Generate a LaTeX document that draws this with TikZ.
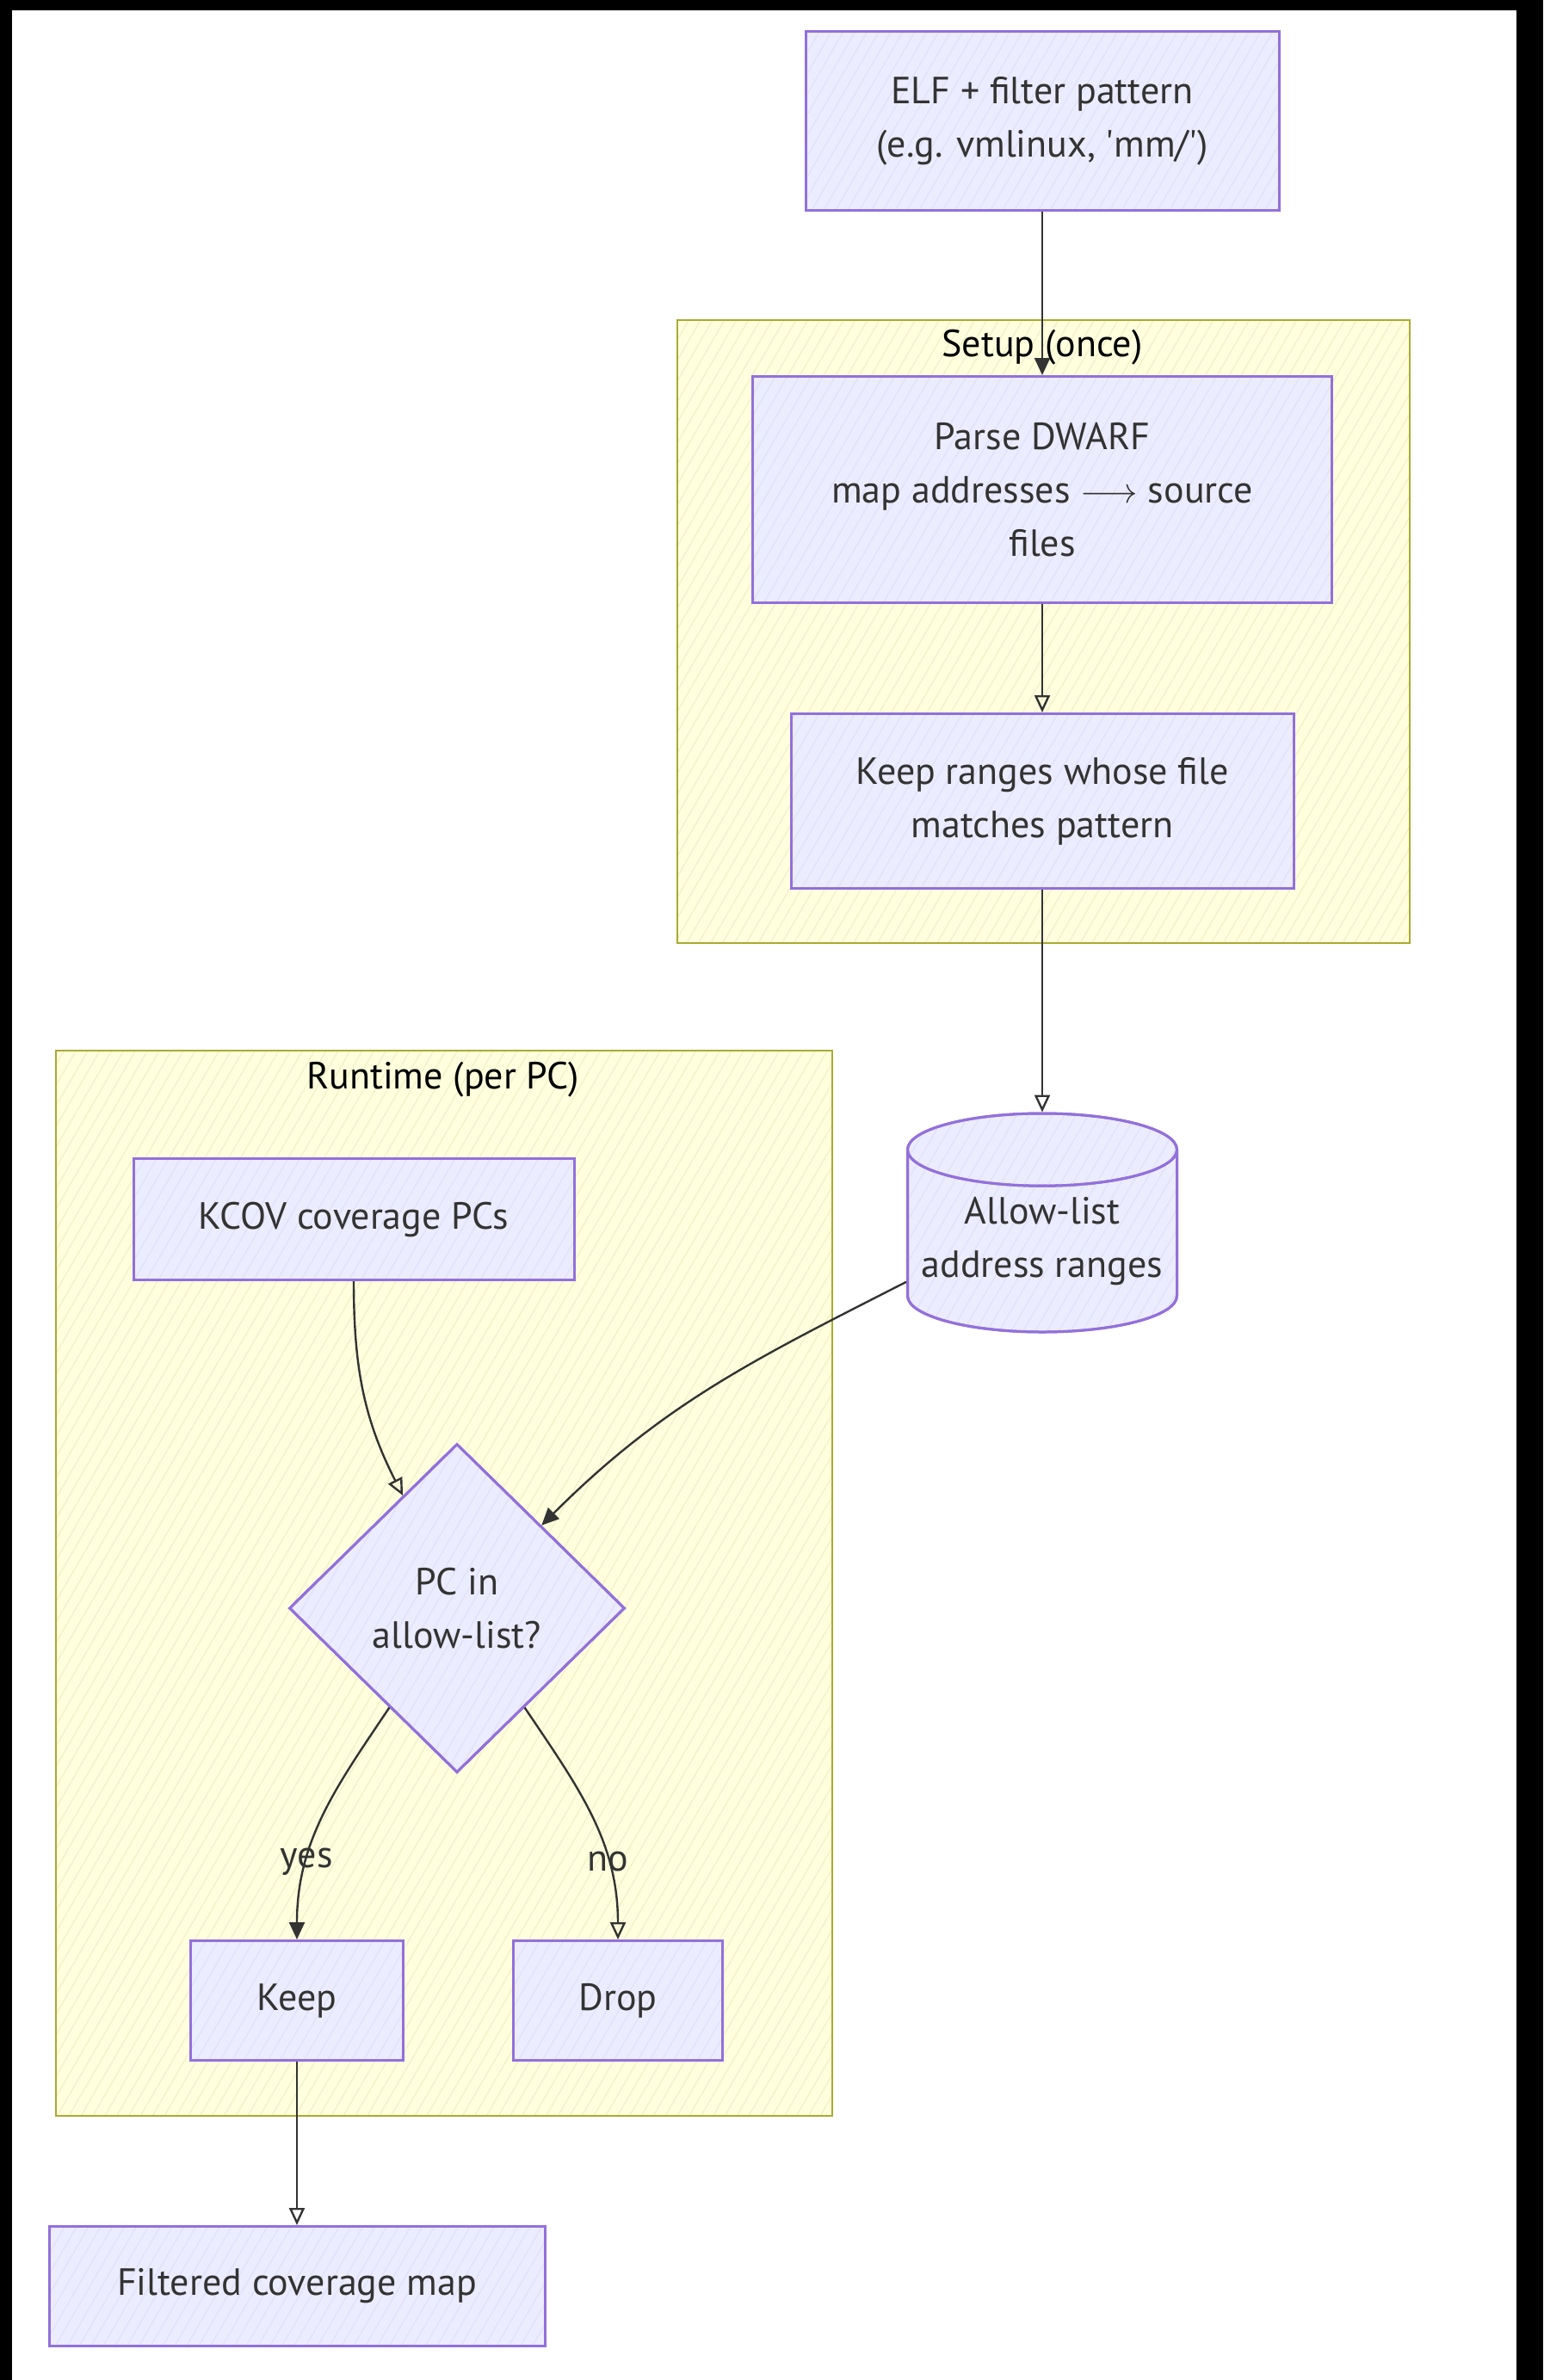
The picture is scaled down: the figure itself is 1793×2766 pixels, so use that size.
\documentclass[tikz,border=0pt]{standalone}
\usepackage{fontspec}
\setmainfont{PT Sans}
\usetikzlibrary{positioning, shapes.geometric, arrows.meta, calc, patterns.meta}
\definecolor{nodefill}{RGB}{236,236,255}
\definecolor{nodeline}{RGB}{147,112,219}
\definecolor{hatchnode}{RGB}{224,224,248}
\definecolor{groupfill}{RGB}{255,255,222}
\definecolor{groupline}{RGB}{170,170,51}
\definecolor{hatchgroup}{RGB}{240,240,200}
\definecolor{inktext}{RGB}{51,51,51}
\tikzset{
  box/.style={draw=nodeline, line width=1.5pt, fill=nodefill,
    postaction={pattern color=hatchnode, pattern={Lines[angle=60, distance=6pt, line width=0.6pt]}},
    postaction={draw=nodeline, line width=1.5pt},
    text=inktext, font=\fontsize{22}{31}\selectfont, align=center, inner sep=0pt},
  decision/.style={box, diamond, minimum width=195pt, minimum height=191pt},
  store/.style={box, cylinder, shape border rotate=90, aspect=0.3,
    minimum width=156.5pt, minimum height=127pt,
    cylinder uses custom fill, cylinder body fill=nodefill, cylinder end fill=white},
  group/.style={draw=groupline, line width=1pt, fill=groupfill,
    postaction={pattern color=hatchgroup, pattern={Lines[angle=60, distance=6pt, line width=0.6pt]}},
    postaction={draw=groupline, line width=1pt}},
  grouptitle/.style={text=black, font=\fontsize{22}{31}\selectfont},
  flow/.style={draw=inktext, line width=1.2pt, -{Triangle[length=10pt, width=9pt]}},
  flowopen/.style={flow, -{Triangle[open, length=10pt, width=9pt]}},
  lbl/.style={text=inktext, font=\fontsize{22}{31}\selectfont, inner sep=0pt}
}
\begin{document}
\begin{tikzpicture}[x=0.5pt, y=0.5pt]
  \useasboundingbox (0,0) rectangle (1793,-2766);
  % frame
  \fill[black] (0,0) rectangle (1793,-12);
  \fill[black] (0,0) rectangle (14,-2766);
  \fill[black] (1762,0) rectangle (1793,-2766);

  % subgraphs
  \draw[group] (787,-372) rectangle (1638,-1096);
  \node[grouptitle] (setuptitle) at (1211,-404) {Setup (once)};
  \draw[group] (65,-1221) rectangle (967,-2459);
  \node[grouptitle] (runtitle) at (515,-1255) {Runtime (per PC)};

  % nodes
  \node[box, minimum width=275pt, minimum height=104pt] (elf) at (1211,-141) {ELF + filter pattern\\(e.g. vmlinux, \textquotesingle mm/\textquotesingle)};
  \node[box, minimum width=336.5pt, minimum height=131.5pt] (dwarf) at (1211,-569) {Parse DWARF\\map addresses $\longrightarrow$ source\\files};
  \node[box, minimum width=292pt, minimum height=101.5pt] (match) at (1211,-931) {Keep ranges whose file\\matches pattern};
  \node[store, anchor=shape center] (allow) at (1211,-1421) {Allow-list\\address ranges};
  \node[box, minimum width=256pt, minimum height=70.5pt] (kcov) at (411,-1417) {KCOV coverage PCs};
  \node[decision] (dec) at (531,-1869) {PC in\\allow-list?};
  \node[box, minimum width=123.5pt, minimum height=69.5pt] (keep) at (345,-2325) {Keep};
  \node[box, minimum width=121.5pt, minimum height=69.5pt] (drop) at (718,-2325) {Drop};
  \node[box, minimum width=288pt, minimum height=69.5pt] (out) at (345,-2657) {Filtered coverage map};

  % edges
  \draw[flow] (elf) -- (dwarf);
  \draw[flowopen] (dwarf) -- (match);
  \draw[flowopen] (match) -- (allow);
  \draw[flowopen] (kcov.south) to[out=-90, in=117] ($(dec.north)!0.32!(dec.west)$);
  \draw[flow] ($(allow.west)+(0,-47)$) to[out=207, in=45] (dec.north east);
  \draw[flow] ($(dec.south)!0.4!(dec.west)$) to[out=236, in=90] node[lbl, pos=0.7] {yes} (keep.north);
  \draw[flowopen] ($(dec.south)!0.4!(dec.east)$) to[out=-56, in=90] node[lbl, pos=0.7] {no} (drop.north);
  \draw[flowopen] (keep) -- (out);
\end{tikzpicture}
\end{document}
